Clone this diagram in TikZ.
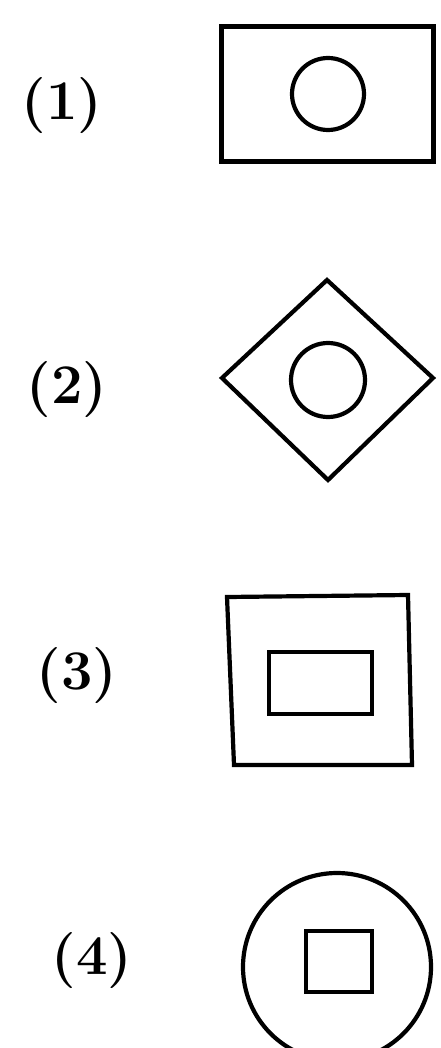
\documentclass[tikz,border=0pt]{standalone}
\begin{document}
\begin{tikzpicture}[x=1pt,y=-1pt,
  shapeline/.style={line width=4.2pt, line join=miter},
  lbl/.style={font=\fontsize{56}{60}\selectfont\bfseries, inner sep=0pt}]
\useasboundingbox (0,0) rectangle (440,1048);
\fill[white] (0,0) rectangle (440,1048);
% labels
\node[lbl] (l1) at (62,106) {(1)};
\node[lbl] (l2) at (67,390) {(2)};
\node[lbl] (l3) at (77,676) {(3)};
\node[lbl] (l4) at (92,961) {(4)};
% figure 1
\draw[shapeline, line width=5pt] (221,27) rectangle (433,162);
\node[shapeline, draw, circle, minimum size=72pt, inner sep=0pt] (c1) at (328,94) {};
% figure 2
\coordinate (dt) at (327,280);
\coordinate (dl) at (222,378);
\coordinate (db) at (328,480);
\coordinate (dr) at (433,378);
\draw[shapeline] (dt) -- (dr) -- (db) -- (dl) -- cycle;
\node[shapeline, draw, circle, minimum size=74pt, inner sep=0pt] (c2) at (328,380) {};
% figure 3
\coordinate (s1) at (227,597);
\coordinate (s2) at (408,595);
\coordinate (s3) at (412,765);
\coordinate (s4) at (234,765);
\draw[shapeline] (s1) -- (s2) -- (s3) -- (s4) -- cycle;
\draw[shapeline] (269,652) rectangle (372,714);
% figure 4
\node[shapeline, draw, circle, minimum size=188pt, inner sep=0pt] (c4) at (337,967) {};
\draw[shapeline] (306,931) rectangle (372,992);
\end{tikzpicture}
\end{document}
